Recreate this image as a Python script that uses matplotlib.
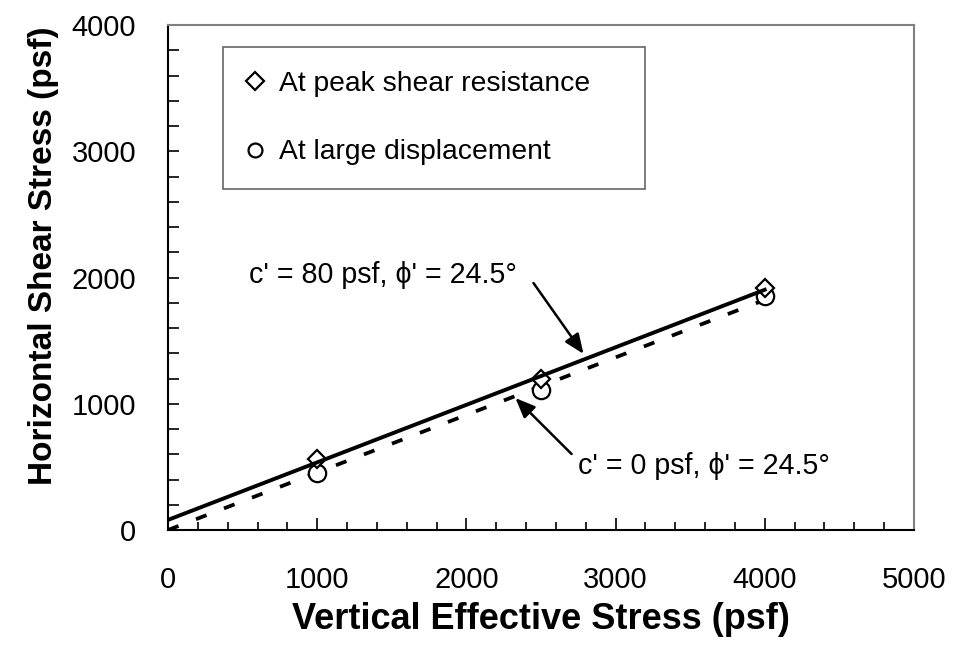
import matplotlib
matplotlib.use("Agg")
import matplotlib.pyplot as plt
import numpy as np
from matplotlib.ticker import MultipleLocator

plt.rcParams['font.family'] = ['Liberation Sans', 'DejaVu Sans']

# Data
normal_stress = [1000, 2500, 4000]
peak_shear = [560, 1200, 1920]
large_disp_shear = [450, 1110, 1850]

c_peak = 80.0
c_large = 0.0
phi_deg = 24.5
line_x = [0, 4000]

x_ticks = [0, 1000, 2000, 3000, 4000, 5000]
y_ticks = [0, 1000, 2000, 3000, 4000]

fig = plt.figure(figsize=(9.59, 6.65), dpi=100)
ax = fig.add_axes([0.1752, 0.203, 0.953 - 0.1752, 0.9624 - 0.203])

tanphi = np.tan(np.radians(phi_deg))
lx = np.array(line_x, dtype=float)

ax.plot(lx, c_large + tanphi * lx, color='black', lw=2.7, dashes=(3, 5), zorder=2)
ax.plot(normal_stress, large_disp_shear, linestyle='none', marker='o', ms=12.5,
        mfc='white', mec='black', mew=1.6, zorder=3, label='At large displacement')
ax.plot(normal_stress, peak_shear, linestyle='none', marker='D', ms=9.5,
        mfc='white', mec='black', mew=1.6, zorder=3, label='At peak shear resistance')
ax.plot(lx, c_peak + tanphi * lx, color='black', lw=2.8, zorder=4)

ax.set_xlim(0, 5000)
ax.set_ylim(0, 4000)
ax.set_xticks(x_ticks)
ax.set_yticks(y_ticks)
ax.xaxis.set_minor_locator(MultipleLocator(200))
ax.yaxis.set_minor_locator(MultipleLocator(200))
ax.tick_params(axis='both', which='both', direction='in', top=False, right=False,
               labelsize=21, width=1.2, color='black')
ax.tick_params(axis='x', which='both', pad=26)
ax.tick_params(axis='y', which='both', pad=23)
ax.tick_params(axis='x', which='major', length=8.5)
ax.tick_params(axis='x', which='minor', length=6)
ax.tick_params(axis='y', which='major', length=8)
ax.tick_params(axis='y', which='minor', length=8)

for s in ['left', 'bottom']:
    ax.spines[s].set_color('black')
    ax.spines[s].set_linewidth(1.5)
for s in ['top', 'right']:
    ax.spines[s].set_color('#808080')
    ax.spines[s].set_linewidth(1.5)

ax.set_xlabel('Vertical Effective Stress (psf)', fontsize=26, fontweight='bold', labelpad=6)
ax.set_ylabel('Horizontal Shear Stress (psf)', fontsize=24, fontweight='bold')
ax.yaxis.set_label_coords(-0.146, 0.543)

handles, labels = ax.get_legend_handles_labels()
order = [1, 0]
leg = ax.legend([handles[i] for i in order], [labels[i] for i in order],
                loc='upper left', bbox_to_anchor=(0.0737, 0.956 - 0.273, 0.566, 0.273),
                mode='expand', fontsize=20.3, frameon=True, fancybox=False,
                edgecolor='#404040', handlelength=0.6, handletextpad=0.55,
                labelspacing=1.5, borderpad=0.85, borderaxespad=0.0)
leg.get_frame().set_linewidth(1.2)
lh = leg.legend_handles
lh[0].set_markersize(9.5)
lh[1].set_markersize(10.0)

ax.text(540, 2020, "c' = 80 psf, \u03d5' = 24.5\u00b0", fontsize=20.6, ha='left', va='center')
ax.annotate('', xy=(2785, 1395), xytext=(2450, 1956),
            arrowprops=dict(arrowstyle='-|>,head_length=0.6,head_width=0.25',
                            color='black', lw=1.8, shrinkA=0, shrinkB=0, mutation_scale=20))
ax.text(2745, 505, "c' = 0 psf, \u03d5' = 24.5\u00b0", fontsize=20.6, ha='left', va='center')
ax.annotate('', xy=(2329, 1045), xytext=(2705, 602),
            arrowprops=dict(arrowstyle='-|>,head_length=0.6,head_width=0.25',
                            color='black', lw=1.8, shrinkA=0, shrinkB=0, mutation_scale=20))

fig.savefig('out.png', dpi=100)
